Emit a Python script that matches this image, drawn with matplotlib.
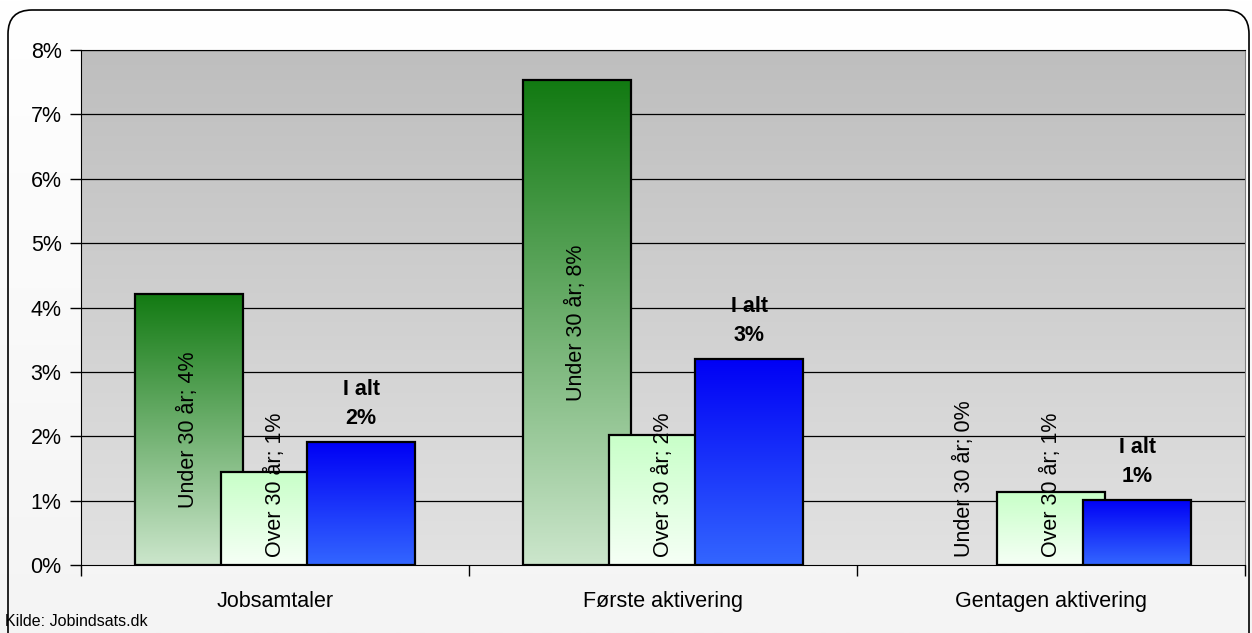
import matplotlib.pyplot as plt
import numpy as np
from matplotlib.patches import FancyBboxPatch
from matplotlib.colors import LinearSegmentedColormap
from matplotlib.transforms import IdentityTransform

plt.rcParams['font.family'] = ['Liberation Sans', 'DejaVu Sans']

# Data (percent)
categories = ['Jobsamtaler', 'Første aktivering', 'Gentagen aktivering']
under30 = [4.21, 7.53, 0.0]
over30 = [1.44, 2.02, 1.13]
i_alt = [1.91, 3.20, 1.01]

W, H = 1252, 633
fig = plt.figure(figsize=(W / 100, H / 100), dpi=100)

# Background with soft gradient and rounded frame
bg = fig.add_axes([0, 0, 1, 1], zorder=-5)
bg.axis('off')
grad = np.linspace(0, 1, 256).reshape(-1, 1)
bg_cmap = LinearSegmentedColormap.from_list('bg', ['#ffffff', '#f4f4f4'])
bg.imshow(grad, cmap=bg_cmap, aspect='auto', extent=[0, 1, 0, 1], origin='upper')
frame = FancyBboxPatch((8, -30), 1241, 653, boxstyle='round,pad=0,rounding_size=24',
                       transform=IdentityTransform(), facecolor='none',
                       edgecolor='black', linewidth=1.2)
fig.patches.append(frame)

ax = fig.add_axes([81 / W, (H - 565) / H, (1245 - 81) / W, (565 - 50) / H])
ax.set_facecolor('none')

# Plot area gradient
plot_cmap = LinearSegmentedColormap.from_list('plot', ['#bebebe', '#e2e2e2'])
ax.imshow(grad, cmap=plot_cmap, aspect='auto', extent=[0, 1, 0, 1], origin='upper',
          transform=ax.transAxes, zorder=0)

# Gridlines
for yv in range(1, 9):
    ax.axhline(yv, color='black', linewidth=0.9, zorder=1)

x = np.arange(len(categories))
width = 0.278
offset = 0.222

series = [
    (under30, -offset, ['#127a12', '#cce6cc']),
    (over30, 0.0, ['#c8ffc8', '#f6fff6']),
    (i_alt, offset, ['#0000f5', '#3366ff']),
]

for k, (vals, off, cols) in enumerate(series):
    cmap = LinearSegmentedColormap.from_list(f's{k}', cols)
    bars = ax.bar(x + off, vals, width, facecolor='none', edgecolor='black',
                  linewidth=1.6, zorder=3 + k)
    for rect in bars:
        h = rect.get_height()
        if h <= 0:
            rect.set_linewidth(0)
            continue
        x0 = rect.get_x()
        im = ax.imshow(grad, cmap=cmap, aspect='auto', origin='upper',
                       extent=[x0, x0 + rect.get_width(), 0, h], zorder=3 + k - 0.5)
        im.set_clip_path(rect)

ax.set_xlim(-0.5, 2.5)
ax.set_ylim(0, 8)

# Rotated labels in the green bars
for vals, off, name in [(under30, -offset, 'Under 30 år'), (over30, 0.0, 'Over 30 år')]:
    for xi, v in zip(x, vals):
        txt = f'{name}; {v:.0f}%'
        if v > 2.6:
            ax.text(xi + off, v / 2, txt, rotation=90, ha='center', va='center',
                    fontsize=15.5, zorder=10)
        else:
            ax.text(xi + off, 0.12, txt, rotation=90, ha='center', va='bottom',
                    fontsize=15.5, zorder=10)

# Total labels above blue bars
for xi, v in zip(x, i_alt):
    ax.text(xi + offset, v + 0.2, f'I alt\n{v:.0f}%', ha='center', va='bottom',
            fontsize=15.5, fontweight='bold', linespacing=1.5, zorder=10)

# Axes styling
ax.spines['top'].set_color('black')
ax.spines['right'].set_color('#808080')
ax.spines['left'].set_color('black')
ax.spines['bottom'].set_color('black')
for s in ax.spines.values():
    s.set_zorder(12)

ax.set_yticks(range(0, 9))
ax.set_yticklabels([f'{i}%' for i in range(0, 9)])
ax.tick_params(axis='y', length=8, width=1, pad=6, labelsize=15.5)

ax.set_xticks(x)
ax.set_xticklabels(categories)
ax.set_xticks([-0.5, 0.5, 1.5, 2.5], minor=True)
ax.tick_params(axis='x', which='major', length=0, pad=19, labelsize=15.5)
ax.tick_params(axis='x', which='minor', length=8, width=1)

fig.text(5 / W, 1 - 622 / H, 'Kilde: Jobindsats.dk', fontsize=11.5, ha='left', va='center')

fig.savefig('out.png', dpi=100)
